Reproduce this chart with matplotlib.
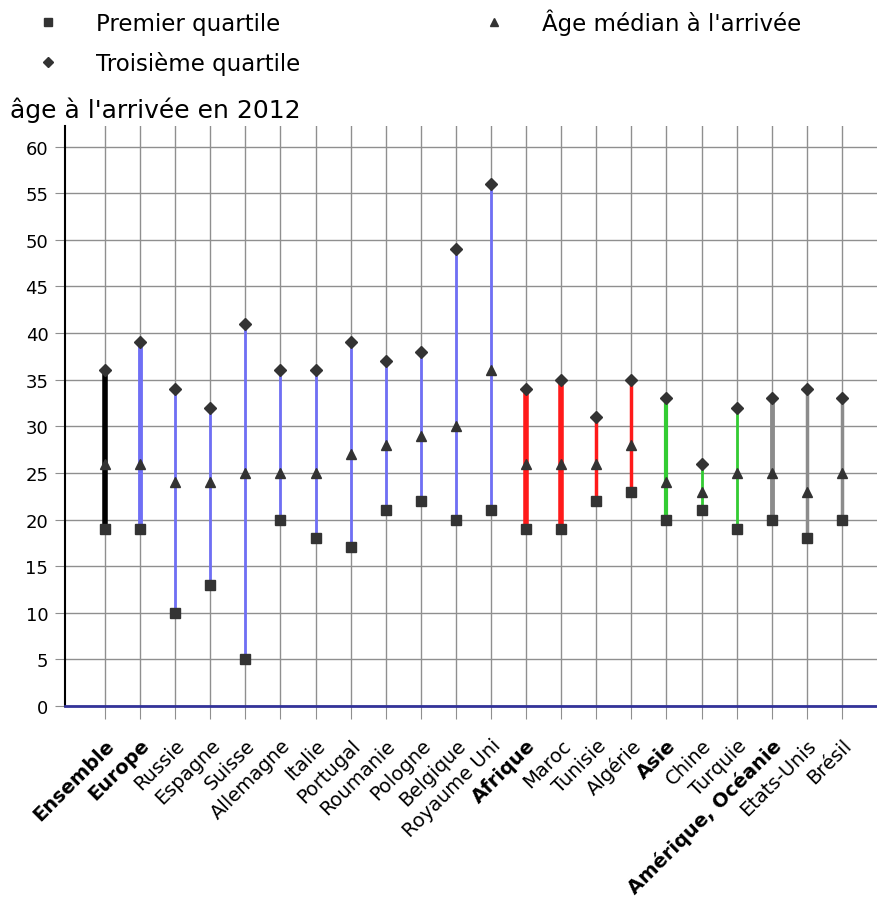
import matplotlib
matplotlib.use("Agg")
import matplotlib.pyplot as plt

# catégories et valeurs (âge à l'arrivée en 2012)
categories = ["Ensemble", "Europe", "Russie", "Espagne", "Suisse", "Allemagne",
              "Italie", "Portugal", "Roumanie", "Pologne", "Belgique", "Royaume Uni",
              "Afrique", "Maroc", "Tunisie", "Algérie", "Asie", "Chine", "Turquie",
              "Amérique, Océanie", "Etats-Unis", "Brésil"]
premier_quartile = [19, 19, 10, 13, 5, 20, 18, 17, 21, 22, 20, 21,
                    19, 19, 22, 23, 20, 21, 19, 20, 18, 20]
age_median = [26, 26, 24, 24, 25, 25, 25, 27, 28, 29, 30, 36,
              26, 26, 26, 28, 24, 23, 25, 25, 23, 25]
troisieme_quartile = [36, 39, 34, 32, 41, 36, 36, 39, 37, 38, 49, 56,
                      34, 35, 31, 35, 33, 26, 32, 33, 34, 33]
regions = ["Ensemble", "Europe", "Afrique", "Asie", "Amérique, Océanie"]
bar_colors = ["black"] + ["#6f6ff5"] * 11 + ["#ff1a1a"] * 4 + ["#33cc33"] * 3 + ["#8c8c8c"] * 3
bar_widths = [4, 3.5] + [2] * 10 + [4, 4, 2.5, 2.5, 3, 2, 2, 3.5, 2.5, 2.5]

fig = plt.figure(figsize=(8.77, 9.04), dpi=100)
ax = fig.add_axes([65 / 877, 1 - 707 / 904, 1 - 65 / 877, (707 - 127) / 904])

x = list(range(len(categories)))

ax.vlines(x, premier_quartile, troisieme_quartile, colors=bar_colors,
          linewidths=bar_widths, zorder=3)
mk = dict(color="#333333", linestyle="none", zorder=4)
sq, = ax.plot(x, premier_quartile, marker="s", markersize=7, **mk)
tri, = ax.plot(x, age_median, marker="^", markersize=7, **mk)
dia, = ax.plot(x, troisieme_quartile, marker="D", markersize=6, **mk)

ax.set_xlim(-1.14, 22.0)
ax.set_ylim(0, 62.2)
ax.set_yticks(range(0, 61, 5))
ax.set_xticks(x)
ax.grid(True, color="#8f8f8f", linewidth=1.0, zorder=0)

for s in ["top", "right"]:
    ax.spines[s].set_visible(False)
ax.spines["left"].set_color("black")
ax.spines["left"].set_linewidth(1.5)
ax.spines["bottom"].set_color("#333399")
ax.spines["bottom"].set_linewidth(2)
ax.spines["bottom"].set_zorder(5)

ax.tick_params(axis="y", length=7, color="#8f8f8f", labelsize=13, pad=5)
ax.tick_params(axis="x", length=9, color="#8f8f8f", labelsize=14, pad=12)
ax.set_xticklabels(categories, rotation=45, ha="right", rotation_mode="anchor")
for lab in ax.get_xticklabels():
    if lab.get_text() in regions:
        lab.set_fontweight("bold")

fig.text(10 / 877, 1 - 110 / 904, "âge à l'arrivée en 2012", fontsize=18, va="center")

fig.legend([sq, dia, tri], ["Premier quartile", "Troisième quartile", "Âge médian à l'arrivée"],
           loc="upper left", bbox_to_anchor=(25 / 877, 1 + 2 / 904), ncol=2,
           frameon=False, fontsize=16.5, handlelength=1.0, handletextpad=1.6,
           labelspacing=0.72, columnspacing=7.95, markerscale=0.8, borderpad=0)

fig.savefig("out.png", dpi=100)
